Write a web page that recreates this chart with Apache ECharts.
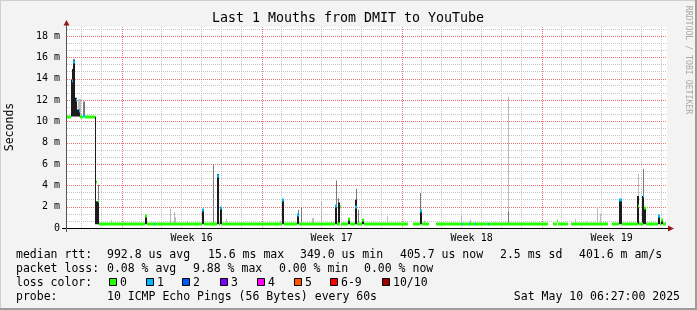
<!DOCTYPE html>
<html><head><meta charset="utf-8">
<script src="https://cdn.jsdelivr.net/npm/echarts@6/dist/echarts.min.js"></script>
<style>html,body{margin:0;padding:0;background:#f3f3f3}#c{width:697px;height:310px}</style>
</head><body><div id="c"></div>
<script>
// X unit: days since 2025-04-10 00:00 (graph spans 04-10 06:27 .. 05-10 06:27)
const xStart = 0.26875, xEnd = 30.26875;
const dayLines = [1,2,4,5,6,7,8,9,11,12,13,14,15,16,18,19,20,21,22,23,25,26,27,28,29,30];
const weekLines = [3,10,17,24];           // Sundays 00:00
const weekLabelPos = [6.5,13.5,20.5,27.5];
const weekLabels = ['Week 16','Week 17','Week 18','Week 19'];
const yMax = 18.84;
const yMajorTicks = [0,2,4,6,8,10,12,14,16,18];

// smoke: [startDay, endDay, lowMs, highMs]
const lightSmoke = [
  [0.80,0.95,10.45,12.1],[2.45,2.50,0.35,0.78],[5.40,5.45,0.35,1.80],[5.61,5.66,0.35,1.50],
  [5.66,5.71,0.35,1.00],[6.26,6.31,0.35,0.70],[8.20,8.25,0.35,0.87],[8.55,8.60,0.35,0.50],
  [8.80,8.85,0.35,0.50],[10.10,10.15,0.35,0.50],[10.90,10.95,0.35,0.70],[12.53,12.60,0.35,0.93],
  [12.95,13.00,0.35,2.50],[13.49,13.54,0.35,0.60],[15.32,15.37,0.35,0.50],[16.25,16.30,0.35,1.09],
  [18.12,18.17,0.35,0.70],[19.95,20.00,0.35,1.15],[20.40,20.45,0.35,0.78],[21.60,21.65,0.35,0.55],
  [22.31,22.36,0.35,12.3],[25.69,25.74,0.35,0.84],[26.24,26.29,0.35,0.60],[26.77,26.82,0.35,1.96],
  [26.92,26.97,0.35,1.34],[27.17,27.22,0.35,0.65],[28.80,28.87,0.35,5.08]
];
const darkSmoke = [
  [1.05,1.17,10.45,11.85],[1.80,1.87,0.35,4.05],[7.55,7.60,0.35,6.0],[11.83,11.88,0.35,1.70],
  [11.95,12.00,0.35,1.97],[13.72,13.77,0.35,4.45],[13.83,13.88,0.35,2.8],[14.70,14.75,0.35,3.68],
  [14.80,14.85,0.35,1.71],[17.93,17.98,0.35,3.28],[22.31,22.36,0.35,1.55],[29.07,29.13,0.35,5.55]
];
const blackSmoke = [
  [0.48,0.54,10.45,13.9],[0.54,0.58,10.45,14.9],[0.58,0.67,10.45,15.8],[0.67,0.78,10.45,12.2],
  [0.78,0.92,10.45,11.1],[1.66,1.72,0.35,10.45],[1.72,1.87,0.35,2.5],[4.17,4.27,0.35,1.1],
  [7.00,7.10,0.35,1.7],[7.77,7.85,0.35,5.05],[7.93,8.02,0.35,1.93],[11.02,11.10,0.35,2.7],
  [11.77,11.85,0.35,1.34],[13.67,13.77,0.35,2.1],[13.83,13.93,0.35,2.4],[14.32,14.42,0.35,0.84],
  [14.67,14.77,0.35,2.65],[15.02,15.10,0.35,0.78],[17.90,18.00,0.35,1.65],[27.88,28.00,0.35,2.7],
  [28.76,28.87,0.35,3.0],[29.04,29.13,0.35,3.0],[29.13,29.20,0.35,1.87],[29.83,29.92,0.35,1.15],
  [29.98,30.07,0.35,0.78]
];

// median rtt (ms) as steps: value holds from medianTime[i] to medianTime[i+1]; null = no data
const medianTime = [0.27,0.49,0.50,0.54,0.58,0.67,0.72,0.76,0.85,0.92,1.08,1.17,1.67,1.70,1.75,1.80,1.86,
  4.17,4.27,4.60,4.65,7.00,7.10,7.77,7.85,7.93,8.02,11.02,11.10,11.77,11.85,13.67,13.77,13.90,13.95,
  14.32,14.42,14.67,14.77,15.02,15.10,17.32,17.57,17.90,18.00,18.37,18.72,20.02,20.06,20.36,20.40,
  20.66,20.70,21.32,21.36,24.32,24.57,24.79,24.84,25.32,25.47,27.32,27.52,27.88,28.00,28.80,28.87,
  29.05,29.13,29.20,29.83,29.92,29.98,30.07,30.20];
const medianRtt = [10.45,null,13.8,null,15.6,null,12.0,null,11.0,10.45,10.5,10.45,null,4.27,null,2.5,0.38,
  1.1,0.38,0.38,0.38,1.7,0.38,4.9,0.38,1.9,0.38,2.6,0.38,1.2,0.38,2.1,0.38,2.0,0.38,
  0.84,0.38,1.97,0.38,0.78,0.38,null,0.38,1.6,0.38,null,0.38,0.38,0.38,0.38,0.38,
  0.38,0.38,0.38,0.38,null,0.38,0.7,0.38,null,0.38,null,0.38,2.6,0.38,2.1,0.38,
  3.0,1.87,0.38,1.15,0.38,0.78,0.38,null];
const medianLoss = [0,0,1,0,1,0,1,0,1,0,1,0,0,0,0,0,0,
  0,0,1,0,1,0,1,0,1,0,1,0,1,0,1,0,0,0,
  0,0,1,0,0,0,0,0,1,0,0,0,1,0,1,0,
  1,0,1,0,0,0,0,0,0,0,0,0,1,0,0,0,
  1,0,0,1,0,0,0,0];

const lossColors = ['#26ff00','#00b8ff','#0059ff','#7e00ff','#ff00ff','#ff5500','#ff0000','#a10000'];
const lossNames = ['0','1','2','3','4','5','6-9','10/10'];
const titleText = 'Last 1 Mouths from DMIT to YouTube';
const rttStats = ['992.8 us avg','15.6 ms max','349.0 us min','405.7 us now','2.5 ms sd','401.6 m am/s'];
const lossStats = ['0.08 % avg','9.88 % max','0.00 % min','0.00 % now'];
const probeText = '10 ICMP Echo Pings (56 Bytes) every 60s';
const dateText = 'Sat May 10 06:27:00 2025';

const yMinorTicks = [];
yMajorTicks.forEach(v => { yMinorTicks.push(v + 2/3, v + 4/3); });

const medianRows = [];
for (let i = 0; i < medianTime.length - 1; i++) {
  if (medianRtt[i] == null) continue;
  medianRows.push([medianTime[i], medianTime[i+1], medianRtt[i], medianLoss[i]]);
}

const MONO = "'DejaVu Sans Mono', monospace";
const RED = '#f07272';
const GRAY = '#c4c4c4';

function smokeRenderer(color) {
  return function (params, api) {
    const a = api.coord([api.value(0), api.value(3)]);
    const b = api.coord([api.value(1), api.value(2)]);
    const x0 = Math.round(a[0]);
    const x1 = Math.max(Math.round(b[0]), x0 + 1);
    return { type: 'rect', shape: { x: x0, y: a[1], width: x1 - x0, height: b[1] - a[1] }, style: { fill: color } };
  };
}
function smokeSeries(data, color) {
  return { type: 'custom', yAxisIndex: 1, z: 10, data, renderItem: smokeRenderer(color), encode: { x: [0,1], y: [2,3] }, clip: true, silent: true };
}
// major (red, dotted) grid lines drawn through the axes' scales
const redGridV = { type: 'custom', yAxisIndex: 1, z: 5, silent: true, data: weekLines.map(v => [v, 0]), encode: { x: 0, y: 1 },
  renderItem: function (params, api) {
    const cs = params.coordSys;
    const px = Math.round(api.coord([api.value(0), 0])[0]) + 0.5;
    return { type: 'line', shape: { x1: px, y1: cs.y, x2: px, y2: cs.y + cs.height },
      style: { stroke: RED, lineWidth: 1, lineDash: [1, 1] } };
  } };
const redGridH = { type: 'custom', yAxisIndex: 1, z: 5, silent: true, data: yMajorTicks.filter(v => v > 0).map(v => [xStart, v]), encode: { x: 0, y: 1 },
  renderItem: function (params, api) {
    const cs = params.coordSys;
    const py = Math.round(api.coord([xStart, api.value(1)])[1]) + 0.5;
    return { type: 'line', shape: { x1: cs.x, y1: py, x2: cs.x + cs.width, y2: py },
      style: { stroke: RED, lineWidth: 1, lineDash: [1, 1] } };
  } };

const chart = echarts.init(document.getElementById('c'), null, { renderer: 'canvas' });

const txt = (x, y, text, extra) => Object.assign({
  type: 'text', x, y, silent: true,
  style: Object.assign({ text, font: '11.5px ' + MONO, fill: '#000', textVerticalAlign: 'middle' }, (extra || {}))
});

const graphics = [
  { type: 'rect', shape: { x: 0, y: 0, width: 697, height: 1 }, style: { fill: '#cfcfcf' } },
  { type: 'rect', shape: { x: 0, y: 0, width: 1, height: 310 }, style: { fill: '#cfcfcf' } },
  { type: 'rect', shape: { x: 695, y: 0, width: 2, height: 310 }, style: { fill: '#9c9c9c' } },
  { type: 'rect', shape: { x: 0, y: 308, width: 697, height: 2 }, style: { fill: '#9c9c9c' } },
  txt(348, 19, titleText, { font: '13.3px ' + MONO, textAlign: 'center' }),
  { type: 'text', x: 10, y: 127, rotation: Math.PI / 2, silent: true,
    style: { text: 'Seconds', font: '11.5px ' + MONO, fill: '#000', textAlign: 'center', textVerticalAlign: 'middle' } },
  { type: 'text', x: 688, y: 60, rotation: -Math.PI / 2, silent: true,
    style: { text: 'RRDTOOL / TOBI OETIKER', font: '8.2px ' + MONO, fill: '#a8a8a8', textAlign: 'center', textVerticalAlign: 'middle' } },
  // axis lines and arrows
  { type: 'line', z: 100, shape: { x1: 62, y1: 228.5, x2: 668, y2: 228.5 }, style: { stroke: '#000', lineWidth: 1 } },
  { type: 'line', z: 100, shape: { x1: 66.5, y1: 232, x2: 66.5, y2: 24 }, style: { stroke: '#555', lineWidth: 1 } },
  { type: 'polygon', z: 101, shape: { points: [[63.5,25.5],[66.5,20],[69.5,25.5]] }, style: { fill: '#8e1c1c' } },
  { type: 'polygon', z: 101, shape: { points: [[668,225.5],[674,228.5],[668,231.5]] }, style: { fill: '#8e1c1c' } },
  // legend text
  txt(16, 255, 'median rtt:'),
  txt(16, 269, 'packet loss:'),
  txt(16, 283, 'loss color:'),
  txt(16, 297, 'probe:'),
  txt(107, 297, probeText),
  txt(680, 297, dateText, { textAlign: 'right' })
];
const rttX = [107, 208, 300, 400, 500, 579];
rttStats.forEach((s, i) => graphics.push(txt(rttX[i], 255, s)));
const lossX = [107, 193, 279, 364];
lossStats.forEach((s, i) => graphics.push(txt(lossX[i], 269, s)));
const boxX = [109, 145.5, 182, 219.5, 256.5, 293.5, 330, 381.5];
lossNames.forEach((n, i) => {
  const bx = Math.round(boxX[i]);
  graphics.push({ type: 'rect', silent: true, shape: { x: bx + 0.5, y: 278.5, width: 7, height: 7 },
    style: { fill: lossColors[i], stroke: '#000', lineWidth: 1 } });
  graphics.push(txt(bx + 11, 283, n));
});

chart.setOption({
  animation: false,
  backgroundColor: '#f3f3f3',
  grid: { left: 67, right: 30, top: 27, bottom: 82, show: true, backgroundColor: '#ffffff', borderWidth: 0 },
  xAxis: [
    { type: 'value', min: xStart, max: xEnd, position: 'bottom', z: 1,
      axisLine: { show: false }, axisTick: { show: false, customValues: dayLines },
      axisLabel: { customValues: weekLabelPos, formatter: v => weekLabels[weekLabelPos.indexOf(v)] || '',
        fontFamily: MONO, fontSize: 10, color: '#000', margin: 5 },
      splitLine: { show: true, lineStyle: { color: GRAY, width: 1, type: [1, 1] } } }
  ],
  yAxis: [
    { type: 'value', min: 0, max: yMax, position: 'right', z: 1,
      axisLine: { show: false }, axisTick: { show: false, customValues: yMinorTicks },
      axisLabel: { show: false },
      splitLine: { show: true, lineStyle: { color: GRAY, width: 1, type: [1, 1] } } },
    { type: 'value', min: 0, max: yMax, position: 'left', z: 1,
      axisLine: { show: false }, axisTick: { show: false, customValues: yMajorTicks },
      axisLabel: { customValues: yMajorTicks, formatter: v => v === 0 ? '0' : v + ' m',
        fontFamily: MONO, fontSize: 10, color: '#000', margin: 7 },
      splitLine: { show: false } }
  ],
  series: [
    redGridV,
    redGridH,
    smokeSeries(lightSmoke, '#bcbcbc'),
    smokeSeries(darkSmoke, '#7a7a7a'),
    smokeSeries(blackSmoke, '#1c1c1c'),
    { type: 'custom', yAxisIndex: 1, z: 11, data: medianRows, encode: { x: [0,1], y: 2 }, clip: true, silent: true,
      renderItem: function (params, api) {
        const a = api.coord([api.value(0), api.value(2)]);
        const b = api.coord([api.value(1), api.value(2)]);
        const x0 = Math.round(a[0]);
        const x1 = Math.max(Math.round(b[0]), x0 + 1);
        return { type: 'rect', shape: { x: x0, y: Math.round(a[1]) - 1.5, width: x1 - x0, height: 3 },
          style: { fill: lossColors[api.value(3)] } };
      } }
  ],
  graphic: graphics
});
</script></body></html>
